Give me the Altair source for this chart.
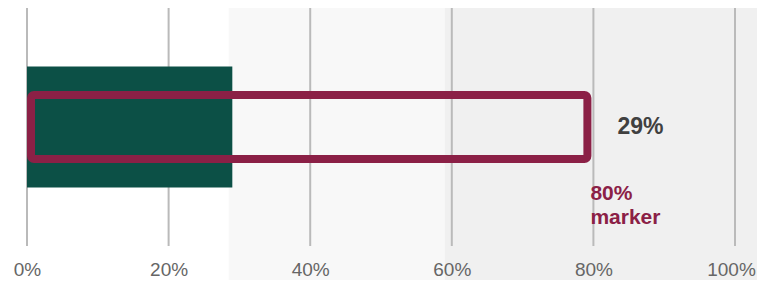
import altair as alt
import pandas as pd

# ---- data ----
categories = ["Result"]
actual_values = [29]
marker_values = [80]
actual_labels = ["29%"]
marker_labels = ["80%\nmarker"]
tick_values = [0, 20, 40, 60, 80, 100]

# faint background panel (decorative backdrop on the right side)
bg_starts = [28.5, 59]
bg_ends = [59, 104.3]
bg_opacity = [0.45, 1.0]

df = pd.DataFrame({
    "cat": categories,
    "zero": [0] * len(categories),
    "actual": actual_values,
    "marker": marker_values,
    "alabel": actual_labels,
    "mlabel": marker_labels,
})
bg = pd.DataFrame({"s": bg_starts, "e": bg_ends, "o": bg_opacity})
ticks = pd.DataFrame({"t": tick_values})

FONT = "Liberation Sans"
GREEN = "#0c5046"
MAROON = "#8b2046"

xscale = alt.Scale(domain=[0, 100], nice=False, zero=True)
yscale = alt.Scale(domain=categories)

xaxis = alt.Axis(
    values=tick_values,
    labelExpr="datum.value + '%'",
    grid=False, domain=False, ticks=False, labelFlush=False,
    labelFont=FONT, labelFontSize=19, labelColor="#666666",
    labelPadding=14, title=None, zindex=1,
    labelOffset={"condition": {"test": "datum.value == 100", "value": -4}, "value": 0},
)

background = alt.Chart(bg).mark_rect(color="#f0f0f0", clip=False).encode(
    x=alt.X("s:Q", scale=xscale, axis=xaxis),
    x2="e:Q",
    y=alt.value(-8),
    y2=alt.value(290),
    opacity=alt.Opacity("o:Q", scale=None, legend=None),
)

grid = alt.Chart(ticks).mark_rule(color="#bababa", strokeWidth=2).encode(
    x=alt.X("t:Q", scale=xscale),
)

bar = alt.Chart(df).mark_bar(color=GREEN, size=121).encode(
    x=alt.X("zero:Q", scale=xscale),
    x2="actual:Q",
    y=alt.Y("cat:N", scale=yscale, axis=None),
)

marker = alt.Chart(df).mark_bar(
    fill=MAROON, fillOpacity=0, stroke=MAROON, strokeWidth=8,
    cornerRadius=3, size=64, xOffset=4, x2Offset=-6,
).encode(
    x=alt.X("zero:Q", scale=xscale),
    x2="marker:Q",
    y=alt.Y("cat:N", scale=yscale, axis=None),
)

value_text = alt.Chart(df).mark_text(
    align="left", baseline="middle", dx=24, font=FONT, fontSize=23,
    fontWeight="bold", color="#404040",
).encode(
    x=alt.X("marker:Q", scale=xscale),
    y=alt.Y("cat:N", scale=yscale, axis=None),
    text="alabel:N",
)

marker_text = alt.Chart(df).mark_text(
    align="left", baseline="top", dx=-3, dy=56, font=FONT, fontSize=21,
    fontWeight="bold", color=MAROON, lineBreak="\n", lineHeight=24,
).encode(
    x=alt.X("marker:Q", scale=xscale),
    y=alt.Y("cat:N", scale=yscale, axis=None),
    text="mlabel:N",
)

chart = alt.layer(background, grid, bar, marker, value_text, marker_text).properties(
    width=708, height=238, autosize="none",
    padding={"left": 19, "top": 0, "right": 22, "bottom": 34},
    background="white",
).configure_view(stroke=None)

chart.save("out.html", embed_options={"renderer": "svg", "actions": False})
